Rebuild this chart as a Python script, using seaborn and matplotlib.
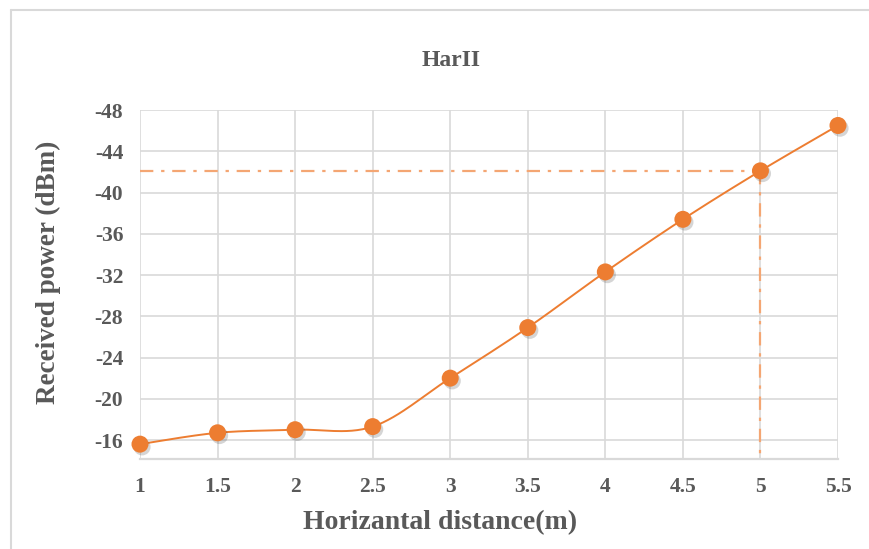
import numpy as np
import pandas as pd
import matplotlib
matplotlib.use("Agg")
import matplotlib.pyplot as plt
import matplotlib.patheffects as pe
from matplotlib.lines import Line2D
import seaborn as sns

# ---- data ----
distance = [1, 1.5, 2, 2.5, 3, 3.5, 4, 4.5, 5, 5.5]
power = [-15.6, -16.7, -17.0, -17.3, -22.0, -26.9, -32.3, -37.4, -42.1, -46.5]
y_ticks = [-48, -44, -40, -36, -32, -28, -24, -20, -16]
x_ticks = [1, 1.5, 2, 2.5, 3, 3.5, 4, 4.5, 5, 5.5]
ref_x = 5
title = "HarII"
xlabel = "Horizantal distance(m)"
ylabel = "Received power (dBm)"

sns.set_theme(style="white")
plt.rcParams['font.family'] = ['Liberation Serif', 'DejaVu Serif']
plt.rcParams['axes.unicode_minus'] = False

ORANGE = "#ED7D31"
LIGHT_OR = "#F4A673"
TXT = "#595959"
GRID = "#D9D9D9"

# Catmull-Rom smoothing (Excel-like smoothed line)
def catmull_rom(xs, ys, n=30):
    P = np.column_stack([xs, ys]).astype(float)
    P = np.vstack([P[0], P, P[-1]])
    out = []
    for i in range(1, len(P) - 2):
        p0, p1, p2, p3 = P[i - 1], P[i], P[i + 1], P[i + 2]
        t = np.linspace(0, 1, n, endpoint=False)[:, None]
        seg = 0.5 * ((2 * p1) + (-p0 + p2) * t + (2 * p0 - 5 * p1 + 4 * p2 - p3) * t ** 2
                     + (-p0 + 3 * p1 - 3 * p2 + p3) * t ** 3)
        out.append(seg)
    out.append(P[-2][None, :])
    return np.vstack(out)

sm = catmull_rom(distance, power)
df_smooth = pd.DataFrame({"x": sm[:, 0], "y": sm[:, 1]})
df = pd.DataFrame({"x": distance, "y": power})

fig = plt.figure(figsize=(8.69, 5.49), dpi=100)
ax = fig.add_axes([140 / 869, 1 - 459 / 549, 698 / 869, 349 / 549])

ax.set_xlim(1, 5.5)
ax.set_ylim(-14.16, -48)

ax.set_xticks(x_ticks)
ax.set_xticklabels([f"{v:g}" for v in x_ticks])
ax.set_yticks(y_ticks)
ax.set_yticklabels([f"{v:d}" for v in y_ticks])
ax.grid(True, color=GRID, linewidth=1.2)
for s in ["left", "right", "top"]:
    ax.spines[s].set_visible(False)
ax.spines["bottom"].set_color(GRID)
ax.spines["bottom"].set_linewidth(1.6)
ax.tick_params(axis="both", length=0, labelsize=15.5, colors=TXT)
ax.tick_params(axis="y", pad=12)
ax.tick_params(axis="x", pad=13)
for lab in ax.get_xticklabels() + ax.get_yticklabels():
    lab.set_fontweight("bold")

# reference dash-dot lines at x = 5
idx = distance.index(ref_x)
yref = power[idx]
ax.plot([distance[0], ref_x], [yref, yref], color=LIGHT_OR, lw=1.6,
        linestyle=(0, (6, 3.5, 1.5, 3.5)), zorder=3)
ax.plot([ref_x, ref_x], [yref, ax.get_ylim()[0]], color=LIGHT_OR, lw=1.6,
        linestyle=(0, (6, 3.5, 1.5, 3.5)), zorder=3)

sns.lineplot(data=df_smooth, x="x", y="y", ax=ax, color=ORANGE, lw=1.4,
             sort=False, estimator=None, zorder=4)
sns.scatterplot(data=df, x="x", y="y", ax=ax, color=ORANGE, s=150,
                edgecolor="none", zorder=5, clip_on=False)
for coll in ax.collections:
    coll.set_path_effects([pe.SimplePatchShadow(offset=(1.5, -2), alpha=0.22, shadow_rgbFace="#444444"),
                           pe.Normal()])
    coll.set_clip_on(False)

ax.set_xlabel(xlabel, fontsize=20, fontweight="bold", color=TXT)
ax.set_ylabel(ylabel, fontsize=19.5, fontweight="bold", color=TXT)
ax.xaxis.set_label_coords((440 - 140) / 698, (459 - 523) / 349)
ax.yaxis.set_label_coords((48 - 140) / 698, (459 - 272) / 349)
ax.xaxis.label.set_va("center")
ax.yaxis.label.set_va("center")

fig.text(451 / 869, 1 - 60 / 549, title, ha="center", va="center",
         fontsize=17, fontweight="bold", color=TXT)

# chart frame (left and top edges)
fig.add_artist(Line2D([11 / 869, 11 / 869], [0, 1 - 10 / 549], color="#D9D9D9", lw=1.5,
                      transform=fig.transFigure))
fig.add_artist(Line2D([11 / 869, 1], [1 - 10 / 549, 1 - 10 / 549], color="#D9D9D9", lw=1.5,
                      transform=fig.transFigure))

fig.savefig("out.png", dpi=100)
